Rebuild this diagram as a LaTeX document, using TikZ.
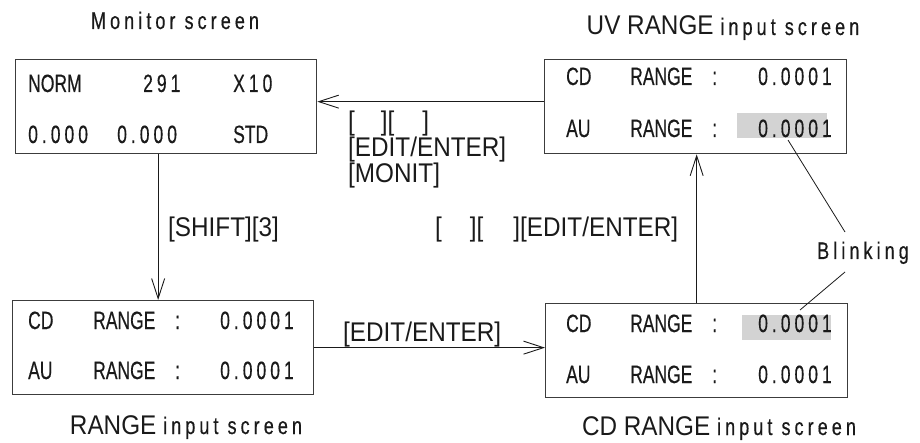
\documentclass[tikz,border=0pt]{standalone}
\usepackage{fontspec}
\setmainfont[FakeStretch=0.9]{Liberation Sans}
\newfontfamily\narrowfont[FakeStretch=0.70,FakeBold=0.4]{Liberation Sans}
\newfontfamily\digitfont[FakeStretch=0.70,FakeBold=0.4,LetterSpace=16]{Liberation Sans}
\newfontfamily\spacedfont[FakeStretch=0.75,FakeBold=0.4,LetterSpace=17]{Liberation Sans}
\usetikzlibrary{arrows.meta}
\definecolor{ink}{HTML}{1A1A1A}
\definecolor{blinkgray}{HTML}{D3D3D3}
\begin{document}
\begin{tikzpicture}[x=1pt,y=-1pt,
  screen/.style={draw=ink!85, line width=1.3pt, minimum width=301pt, minimum height=94pt, anchor=north west, inner sep=0pt},
  btxt/.style={anchor=base west, inner sep=0pt, text=ink, font={\fontsize{25}{28}\selectfont\narrowfont}},
  dtxt/.style={anchor=base west, inner sep=0pt, text=ink, font={\fontsize{25}{28}\selectfont\digitfont}},
  title/.style={anchor=base, inner sep=0pt, text=ink, font={\fontsize{27}{30}\selectfont}},
  keylbl/.style={anchor=base west, inner sep=0pt, text=ink, font={\fontsize{27}{30}\selectfont}},
  arr/.style={draw=ink, line width=0.9pt, -{Straight Barb[length=20pt,width=13pt,line width=0.9pt]}},
  lead/.style={draw=ink, line width=0.8pt}
]
\useasboundingbox (0,0) rectangle (920,443);

% blinking highlights
\fill[blinkgray] (737,113) rectangle (827,138);
\fill[blinkgray] (742,315) rectangle (831,340);

% screens
\node[screen] (mon) at (15,59) {};
\node[screen] (rng) at (12,300) {};
\node[screen, minimum width=302pt] (uv) at (544,59) {};
\node[screen, minimum width=302pt] (cdb) at (545,303) {};

% titles
\node[title, font={\fontsize{24}{28}\selectfont\spacedfont}] (tmon) at (175,29) {Monitor screen};
\node[title] (tuv) at (723,35) {UV RANGE {\fontsize{24}{28}\selectfont\spacedfont input screen}};
\node[title] (trng) at (186,434) {RANGE {\fontsize{24}{28}\selectfont\spacedfont input screen}};
\node[title] (tcd) at (719,435) {CD RANGE {\fontsize{24}{28}\selectfont\spacedfont input screen}};

% monitor screen contents
\node[btxt] (m11) at (28,92) {NORM};
\node[dtxt] (m12) at (143,92) {291};
\node[dtxt] (m13) at (233,92) {X10};
\node[dtxt] (m21) at (28,143) {0.000};
\node[dtxt] (m22) at (117,143) {0.000};
\node[btxt] (m23) at (233,143) {STD};

% RANGE input screen contents
\node[btxt] (r11) at (28,329) {CD};
\node[btxt] (r12) at (93,329) {RANGE};
\node[btxt] (r13) at (175,329) {:};
\node[dtxt] (r14) at (220,329) {0.0001};
\node[btxt] (r21) at (28,379) {AU};
\node[btxt] (r22) at (93,379) {RANGE};
\node[btxt] (r23) at (175,379) {:};
\node[dtxt] (r24) at (220,379) {0.0001};

% UV RANGE input screen contents
\node[btxt] (u11) at (566,85) {CD};
\node[btxt] (u12) at (630,85) {RANGE};
\node[btxt] (u13) at (712,85) {:};
\node[dtxt] (u14) at (758,85) {0.0001};
\node[btxt] (u21) at (566,137) {AU};
\node[btxt] (u22) at (630,137) {RANGE};
\node[btxt] (u23) at (712,137) {:};
\node[dtxt] (u24) at (758,137) {0.0001};

% CD RANGE input screen contents
\node[btxt] (c11) at (566,332) {CD};
\node[btxt] (c12) at (630,332) {RANGE};
\node[btxt] (c13) at (712,332) {:};
\node[dtxt] (c14) at (758,332) {0.0001};
\node[btxt] (c21) at (566,383) {AU};
\node[btxt] (c22) at (630,383) {RANGE};
\node[btxt] (c23) at (712,383) {:};
\node[dtxt] (c24) at (758,383) {0.0001};

% connectors
\draw[arr] ([yshift=5pt]uv.west) -- ([yshift=5pt]uv.west -| mon.east);
\draw[arr] ([xshift=-8pt]mon.south) -- ([xshift=-8pt]mon.south |- rng.north);
\draw[arr] (rng.east) -- (rng.east -| cdb.west);
\draw[arr] (cdb.north) -- (cdb.north |- uv.south);

% key labels
\node[keylbl] (k1a) at (348,131) {[\hspace{26pt}][\hspace{28pt}]};
\node[keylbl] (k1b) at (348,157) {[EDIT/ENTER]};
\node[keylbl] (k1c) at (348,183) {[MONIT]};
\node[keylbl] (k2) at (168,237) {[SHIFT][3]};
\node[keylbl] (k3) at (435,237) {[\hspace{28pt}][\hspace{30pt}][EDIT/ENTER]};
\node[keylbl] (k4) at (343,341) {[EDIT/ENTER]};

% blinking callout
\node[anchor=base west, inner sep=0pt, text=ink, font={\fontsize{24}{28}\selectfont\spacedfont}] (blink) at (817,259) {Blinking};
\coordinate (bu) at (845,232);
\coordinate (bl) at (845,272);
\coordinate (hu) at (788,140);
\coordinate (hl) at (800,310);
\draw[lead] (hu) -- (bu);
\draw[lead] (bl) -- (hl);
\end{tikzpicture}
\end{document}
